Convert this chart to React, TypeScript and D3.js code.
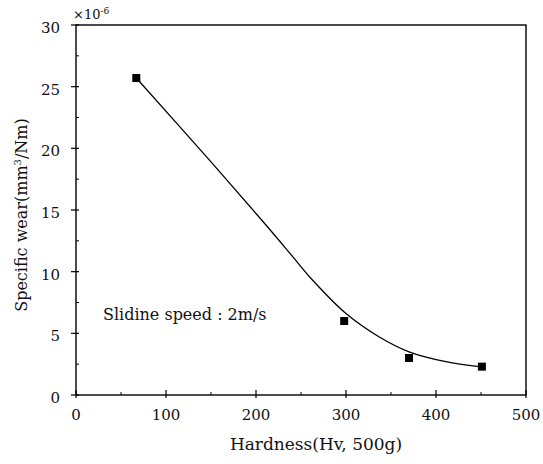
import React from "react";
import * as d3 from "d3";

// Measured specific wear vs hardness
const hardness = [67, 298, 370, 451];
const wear = [25.7, 6.0, 3.0, 2.3];

// Fitted trend curve
const fitX = [67, 150, 212, 241, 263, 300, 337, 370, 411, 448];
const fitY = [25.7, 18.9, 13.7, 11.2, 9.3, 6.6, 4.7, 3.5, 2.7, 2.3];

const xTicks = [0, 100, 200, 300, 400, 500];
const yTicks = [0, 5, 10, 15, 20, 25, 30];
const xMinor = [50, 150, 250, 350, 450];
const yMinor = [2.5, 7.5, 12.5, 17.5, 22.5, 27.5];

const W = 543;
const H = 464;
const left = 76, right = 526, top = 25, bottom = 395;
const font = "'DejaVu Serif', serif";
const ts = { fontFamily: font };

export default function App() {
  const x = d3.scaleLinear().domain([0, 500]).range([left, right]);
  const y = d3.scaleLinear().domain([0, 30]).range([bottom, top]);
  const line = d3
    .line<number>()
    .x((_, i) => x(fitX[i]))
    .y((d) => y(d))
    .curve(d3.curveCatmullRom);

  return (
    <svg width={W} height={H} style={{ position: "absolute", left: 0, top: 0, background: "#fff" }}>
      <rect x={left} y={top} width={right - left} height={bottom - top} fill="none" stroke="#000" strokeWidth={1.4} />
      {xTicks.map((t) => (
        <g key={"xt" + t}>
          <line x1={x(t)} x2={x(t)} y1={bottom + 3} y2={bottom - 5} stroke="#000" strokeWidth={1.2} />
          <text x={x(t)} y={bottom + 25} textAnchor="middle" style={ts} fontSize={15} fill="#111">
            {t}
          </text>
        </g>
      ))}
      {xMinor.map((t) => (
        <line key={"xm" + t} x1={x(t)} x2={x(t)} y1={bottom} y2={bottom - 3} stroke="#000" strokeWidth={1} />
      ))}
      {yTicks.map((t) => (
        <g key={"yt" + t}>
          <line x1={left - 5} x2={left + 3} y1={y(t)} y2={y(t)} stroke="#000" strokeWidth={1.2} />
          <text x={left - 16} y={y(t) + 8} textAnchor="end" style={ts} fontSize={15} fill="#111">
            {t}
          </text>
        </g>
      ))}
      {yMinor.map((t) => (
        <line key={"ym" + t} x1={left} x2={left + 3} y1={y(t)} y2={y(t)} stroke="#000" strokeWidth={1} />
      ))}
      <text x={left - 3} y={top - 6} style={ts} fontSize={13} fill="#111">
        ×10<tspan dy={-5} fontSize={9}>-6</tspan>
      </text>
      <path d={line(fitY) || ""} fill="none" stroke="#000" strokeWidth={1.3} />
      {hardness.map((h, i) => (
        <rect key={"p" + i} x={x(h) - 4} y={y(wear[i]) - 4} width={8} height={8} fill="#000" />
      ))}
      <text x={103} y={320} style={ts} fontSize={16} fill="#111">
        Slidine speed : 2m/s
      </text>
      <text x={316} y={450} textAnchor="middle" style={ts} fontSize={17} fill="#111">
        Hardness(Hv, 500g)
      </text>
      <text
        transform={`translate(27, 215) rotate(-90)`}
        textAnchor="middle"
        style={ts}
        fontSize={16}
        fill="#111"
      >
        Specific wear(mm<tspan dy={-6} fontSize={10}>3</tspan>
        <tspan dy={6}>/Nm)</tspan>
      </text>
    </svg>
  );
}
